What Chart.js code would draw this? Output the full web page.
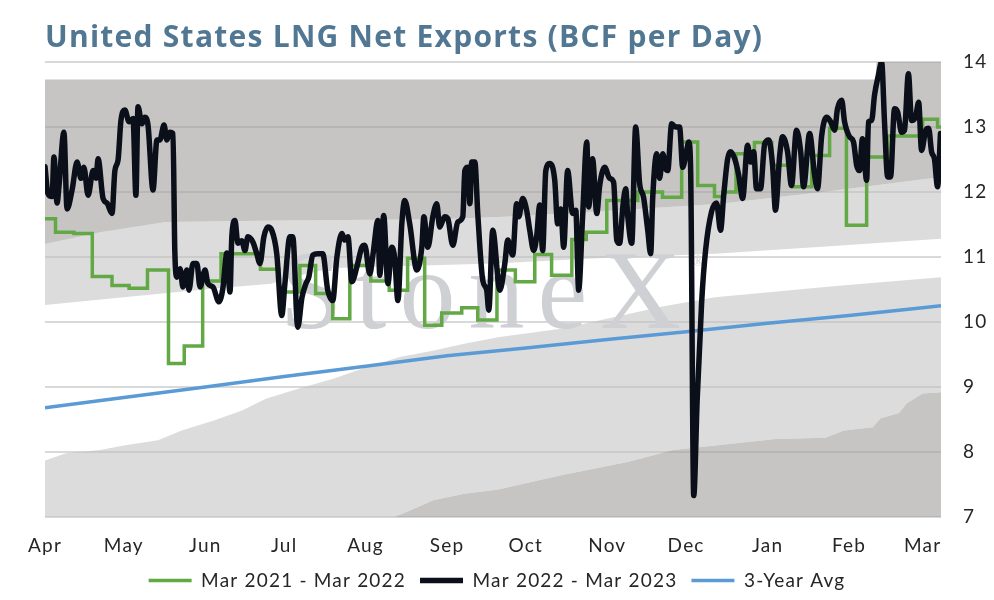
<!DOCTYPE html>
<html>
<head>
<meta charset="utf-8">
<script src="https://cdn.jsdelivr.net/npm/chart.js@4.4.1/dist/chart.umd.min.js"></script>
<style>
  html, body { margin: 0; padding: 0; background: #fff; }
  #wrap { width: 994px; height: 600px; }
</style>
</head>
<body>
<div id="wrap"><canvas id="myChart" width="994" height="600"></canvas></div>
<script>
// x values are days counted from Apr 1
const monthDays = [0, 30, 61, 91, 122, 153, 183, 214, 244, 275, 306, 334];
const monthLabels = ['Apr', 'May', 'Jun', 'Jul', 'Aug', 'Sep', 'Oct', 'Nov', 'Dec', 'Jan', 'Feb', 'Mar'];

// shaded range bands (outer max, inner upper, inner lower, outer min)
const bandTopDays = [0, 316, 316.5, 341];
const bandTopVals = [13.73, 13.73, 14, 14];
const bandUpperDays = [0, 21, 46, 90, 150, 175, 210, 257, 300, 341];
const bandUpperVals = [11.2, 11.38, 11.54, 11.56, 11.58, 11.62, 11.7, 11.82, 12.02, 12.23];
const bandMidUpDays = [0, 30, 60, 86, 100, 110, 171, 210, 255, 300, 341];
const bandMidUpVals = [10.26, 10.38, 10.5, 10.59, 10.75, 10.83, 10.9, 10.98, 11.05, 11.17, 11.28];
const bandMidLowDays = [0, 8, 21, 30, 43, 52, 64, 75, 84, 97, 110, 122, 135, 148, 160, 173, 197, 235, 255, 300, 341];
const bandMidLowVals = [7.87, 7.98, 8.03, 8.1, 8.18, 8.33, 8.48, 8.64, 8.82, 8.98, 9.13, 9.3, 9.46, 9.56, 9.67, 9.77, 9.9, 10.24, 10.38, 10.55, 10.69];
const bandLowDays = [0, 125, 133, 140, 148, 160, 172, 196, 222, 239, 262, 278, 297, 304, 315, 318, 325, 328, 334, 341];
const bandLowVals = [6.0, 6.9, 7.0, 7.12, 7.26, 7.36, 7.42, 7.64, 7.85, 8.03, 8.13, 8.2, 8.22, 8.33, 8.38, 8.52, 8.6, 8.75, 8.9, 8.92];

// Mar 2021 - Mar 2022 (weekly steps, day each level starts)
const prevDays = [0, 4, 11, 18, 25.5, 32, 39, 47, 53, 60, 67, 82, 89, 97, 103, 109.5, 116, 124, 131, 138, 144.5, 151, 158.6, 164.7, 172, 179, 186.4, 192.8, 200.5, 206, 213.8, 225.6, 235, 242.3, 248.4, 254.8, 258, 263, 270, 276.6, 284.5, 291.8, 298.6, 305, 312.7, 320.7, 334, 339.7, 341];
const prevVals = [11.59, 11.38, 11.36, 10.7, 10.56, 10.52, 10.8, 9.36, 9.63, 10.63, 11.05, 10.81, 10.46, 10.87, 10.44, 10.05, 10.87, 10.63, 10.49, 10.98, 9.95, 10.14, 10.22, 10.03, 10.8, 10.62, 11.04, 10.72, 11.27, 11.38, 11.87, 12.0, 11.92, 12.77, 12.1, 11.93, 12.0, 12.59, 12.76, 12.41, 12.08, 12.56, 12.98, 11.49, 12.54, 12.86, 13.12, 13.0, 13.0];

// Mar 2022 - Mar 2023
const currDays = [0, 1.1, 2.7, 3.4, 4.6, 5.3, 7.2, 8.4, 10.3, 12.2, 13.7, 14.8, 16.4, 18.3, 19.4, 20.2, 22.1, 23.6, 25.5, 26.6, 27.8, 28.9, 30.4, 32.0, 33.5, 34.6, 35.4, 36.9, 38.0, 39.2, 41.1, 42.6, 43.7, 45.3, 46.4, 47.5, 48.7, 49.4, 50.2, 51.4, 52.5, 54.0, 54.8, 56.3, 57.8, 59.0, 60.9, 62.0, 63.9, 66.2, 67.7, 69.2, 70.4, 71.1, 72.3, 73.4, 74.9, 76.1, 77.2, 79.1, 80.6, 81.8, 83.3, 84.8, 86.3, 88.2, 90.1, 91.3, 93.2, 94.3, 96.2, 97.8, 99.3, 100.4, 101.9, 103.8, 105.7, 107.6, 109.5, 111.1, 113.0, 114.1, 115.3, 116.8, 118.7, 120.6, 121.7, 123.6, 124.8, 126.7, 127.4, 128.9, 130.5, 132.0, 133.1, 134.3, 135.8, 136.9, 138.8, 141.5, 143.4, 144.2, 145.7, 147.6, 149.1, 150.2, 152.1, 153.3, 155.2, 157.1, 159.0, 159.8, 160.9, 161.7, 162.4, 163.6, 164.7, 166.6, 168.1, 168.9, 170.4, 173.1, 175.0, 176.1, 178.0, 179.5, 180.3, 181.8, 183.3, 184.5, 186.0, 187.1, 188.3, 189.4, 190.6, 192.1, 194.0, 195.1, 196.3, 197.4, 198.9, 200.8, 202.0, 203.1, 204.6, 206.2, 206.9, 208.4, 210.0, 211.1, 213.0, 214.9, 216.4, 217.6, 218.7, 219.9, 221.0, 221.8, 223.3, 224.8, 226.3, 227.8, 229.4, 230.5, 231.3, 232.8, 233.9, 235.1, 236.2, 237.0, 238.5, 240.0, 241.5, 242.7, 244.2, 245.0, 245.7, 246.9, 248.2, 249.9, 251.4, 253.7, 255.6, 257.1, 258.3, 259.8, 260.9, 262.5, 264.0, 265.5, 267.4, 268.5, 269.7, 270.8, 272.3, 273.9, 275.4, 276.9, 278.0, 279.6, 280.7, 282.6, 284.1, 286.0, 287.6, 288.7, 291.0, 292.9, 294.0, 295.6, 297.5, 299.0, 300.5, 301.6, 303.2, 304.3, 306.2, 307.7, 308.9, 310.0, 311.1, 312.7, 313.4, 314.6, 315.7, 317.2, 318.4, 319.5, 320.7, 321.8, 323.3, 324.5, 326.0, 327.1, 328.6, 329.8, 331.3, 332.5, 333.6, 335.2, 336.3, 337.4, 338.5, 339.7, 340.8];
const currVals = [12.39, 11.98, 11.93, 12.54, 11.83, 12.08, 12.92, 11.74, 12.03, 12.46, 12.21, 12.38, 11.95, 12.33, 12.21, 12.51, 11.9, 11.83, 11.67, 12.33, 12.49, 13.1, 13.26, 13.08, 13.13, 11.95, 13.31, 13.05, 13.15, 13.03, 12.03, 12.8, 12.8, 13.03, 12.8, 12.92, 12.9, 11.1, 10.69, 10.82, 10.54, 10.8, 10.49, 10.9, 10.9, 10.54, 10.8, 10.59, 10.54, 10.31, 10.52, 11.06, 10.46, 11.31, 11.56, 11.21, 11.25, 11.1, 11.31, 11.23, 11.05, 10.9, 11.31, 11.46, 11.41, 11.05, 10.1, 10.59, 11.31, 11.31, 9.92, 10.38, 10.59, 10.69, 11.03, 11.05, 11.05, 10.49, 10.33, 11.0, 11.36, 11.26, 11.31, 10.62, 10.85, 11.15, 11.18, 10.74, 11.03, 11.56, 10.72, 11.64, 10.59, 11.15, 10.98, 10.33, 11.51, 11.87, 11.51, 10.8, 11.15, 11.62, 11.15, 11.62, 11.82, 11.46, 11.62, 11.59, 11.18, 11.54, 11.62, 12.33, 12.38, 11.82, 12.46, 12.46, 11.67, 10.64, 10.49, 10.18, 11.41, 10.49, 10.9, 11.26, 11.03, 11.82, 11.62, 11.9, 11.72, 11.41, 11.1, 11.31, 11.8, 11.1, 12.33, 12.44, 12.18, 11.51, 11.74, 11.15, 12.33, 11.67, 11.72, 10.49, 11.62, 12.77, 11.77, 12.51, 11.67, 12.1, 12.38, 12.21, 12.15, 11.26, 11.21, 11.77, 12.05, 11.62, 11.21, 13.0, 12.13, 11.92, 11.41, 11.05, 11.92, 12.59, 12.21, 12.59, 12.36, 12.33, 13.05, 13.0, 13.0, 12.38, 12.64, 12.77, 12.38, 7.33, 8.8, 10.3, 11.1, 11.7, 11.83, 11.41, 11.95, 12.51, 12.62, 12.51, 12.26, 11.9, 12.72, 12.46, 12.62, 12.05, 12.05, 12.74, 12.8, 12.41, 11.72, 12.56, 12.85, 12.62, 12.1, 12.95, 12.62, 12.08, 12.9, 12.26, 12.05, 12.87, 13.15, 13.08, 12.95, 13.28, 13.41, 13.08, 12.85, 12.77, 12.41, 12.33, 12.82, 12.18, 13.08, 13.1, 13.49, 13.8, 14.0, 13.08, 12.23, 12.23, 13.28, 13.23, 12.92, 12.95, 13.82, 13.1, 13.15, 13.38, 12.64, 12.95, 12.98, 12.62, 12.51, 12.08, 12.9];

// 3-year average
const avgDays = [0, 30, 61, 91, 122, 153, 183, 214, 244, 275, 306, 334, 341];
const avgVals = [8.68, 8.84, 9.0, 9.16, 9.32, 9.48, 9.6, 9.73, 9.85, 9.98, 10.1, 10.22, 10.25];

function pts(days, vals) {
    return days.map((d, i) => ({ x: d, y: vals[i] }));
}

const FONT = 'Lato, "Noto Sans", sans-serif';
const TEXT_SPACING = '1.2px';
const darkBand = 'rgba(160, 158, 156, 0.6)';
const lightBand = 'rgba(190, 190, 190, 0.54)';

// wider letter spacing so Lato takes the room of the original font
const spacingPlugin = {
    id: 'spacing',
    beforeUpdate(chart) { chart.ctx.letterSpacing = TEXT_SPACING; },
    beforeDraw(chart) { chart.ctx.letterSpacing = TEXT_SPACING; }
};

// title + StoneX watermark, drawn after the band fills and before the lines
const decorPlugin = {
    id: 'decor',
    beforeDatasetsDraw(chart) {
        const ctx = chart.ctx;
        ctx.save();
        ctx.fillStyle = '#cfd0d4';
        ctx.font = '112px "Liberation Serif", "DejaVu Serif", serif';
        ctx.letterSpacing = '13px';
        ctx.textBaseline = 'alphabetic';
        ctx.textAlign = 'left';
        ctx.fillText('StoneX', 280, 328);
        ctx.letterSpacing = '0px';
        ctx.font = '14px "Liberation Serif", serif';
        ctx.fillText('®', 693, 266);
        ctx.restore();
    },
    afterDraw(chart) {
        const ctx = chart.ctx;
        const title = 'United States LNG Net Exports (BCF per Day)';
        ctx.save();
        ctx.fillStyle = '#517792';
        ctx.font = 'bold 30px "Open Sans", Lato, sans-serif';
        ctx.letterSpacing = '0px';
        const w = ctx.measureText(title).width;
        const sp = Math.max(-1, Math.min(2, (717 - w) / (title.length - 1)));
        ctx.letterSpacing = sp + 'px';
        ctx.textBaseline = 'alphabetic';
        ctx.textAlign = 'left';
        ctx.fillText(title, 45, 47);
        ctx.restore();
    }
};

function buildChart() {
    const bandBase = { borderWidth: 0, pointRadius: 0, pointHoverRadius: 0, tension: 0 };
    const data = {
        datasets: [
            { ...bandBase, label: 'band-top', data: pts(bandTopDays, bandTopVals), fill: '+1', backgroundColor: darkBand },
            { ...bandBase, label: 'band-upper', data: pts(bandUpperDays, bandUpperVals), fill: '+1', backgroundColor: lightBand },
            { ...bandBase, label: 'band-midup', data: pts(bandMidUpDays, bandMidUpVals), fill: false },
            { ...bandBase, label: 'band-midlow', data: pts(bandMidLowDays, bandMidLowVals), fill: '+1', backgroundColor: lightBand },
            { ...bandBase, label: 'band-low', data: pts(bandLowDays, bandLowVals), fill: 'start', backgroundColor: darkBand },
            {
                label: 'Mar 2021 - Mar 2022',
                data: pts(prevDays, prevVals),
                borderColor: '#62a845',
                backgroundColor: '#62a845',
                borderWidth: 3.5,
                stepped: true,
                pointRadius: 0,
                fill: false,
                order: -1
            },
            {
                label: 'Mar 2022 - Mar 2023',
                data: pts(currDays, currVals),
                borderColor: '#0a0f19',
                backgroundColor: '#0a0f19',
                borderWidth: 5.5,
                borderJoinStyle: 'round',
                borderCapStyle: 'round',
                cubicInterpolationMode: 'monotone',
                pointRadius: 0,
                fill: false,
                order: -2
            },
            {
                label: '3-Year Avg',
                data: pts(avgDays, avgVals),
                borderColor: '#5b9bd5',
                backgroundColor: '#5b9bd5',
                borderWidth: 3.5,
                pointRadius: 0,
                fill: false,
                order: -1.5
            }
        ]
    };

    const config = {
        type: 'line',
        data: data,
        options: {
            responsive: false,
            animation: false,
            layout: { padding: { top: 62, right: 0, bottom: 0, left: 0 } },
            plugins: {
                filler: { drawTime: 'beforeDatasetsDraw' },
                tooltip: { enabled: false },
                title: { display: false },
                legend: {
                    position: 'bottom',
                    labels: {
                        filter: (item) => item.datasetIndex >= 5,
                        sort: (a, b) => a.datasetIndex - b.datasetIndex,
                        usePointStyle: true,
                        pointStyle: 'line',
                        pointStyleWidth: 43,
                        color: '#262626',
                        font: { family: FONT, size: 19 },
                        padding: 14
                    }
                }
            },
            scales: {
                x: {
                    type: 'linear',
                    min: 0,
                    max: 341,
                    grid: { display: false },
                    border: { display: false },
                    afterBuildTicks: (scale) => {
                        scale.ticks = monthDays.map(v => ({ value: v }));
                    },
                    afterFit: (scale) => { scale.height = 40; },
                    ticks: {
                        autoSkip: false,
                        maxRotation: 0,
                        padding: 9,
                        color: '#262626',
                        font: { family: FONT, size: 19 },
                        callback: (v) => monthLabels[monthDays.indexOf(v)]
                    }
                },
                yLeft: {
                    position: 'left',
                    display: true,
                    min: 7,
                    max: 14,
                    grid: { display: false },
                    border: { display: false },
                    ticks: { display: false },
                    afterFit: (scale) => { scale.width = 45; }
                },
                y: {
                    type: 'linear',
                    position: 'right',
                    min: 7,
                    max: 14,
                    grid: { color: '#d9d9d9', lineWidth: 2, drawTicks: false },
                    border: { display: false },
                    afterFit: (scale) => { scale.width = 53; },
                    ticks: {
                        stepSize: 1,
                        padding: 22,
                        color: '#262626',
                        font: { family: FONT, size: 19 }
                    }
                }
            }
        },
        plugins: [spacingPlugin, decorPlugin]
    };

    new Chart(document.getElementById('myChart').getContext('2d'), config);
}

buildChart();
</script>
</body>
</html>
